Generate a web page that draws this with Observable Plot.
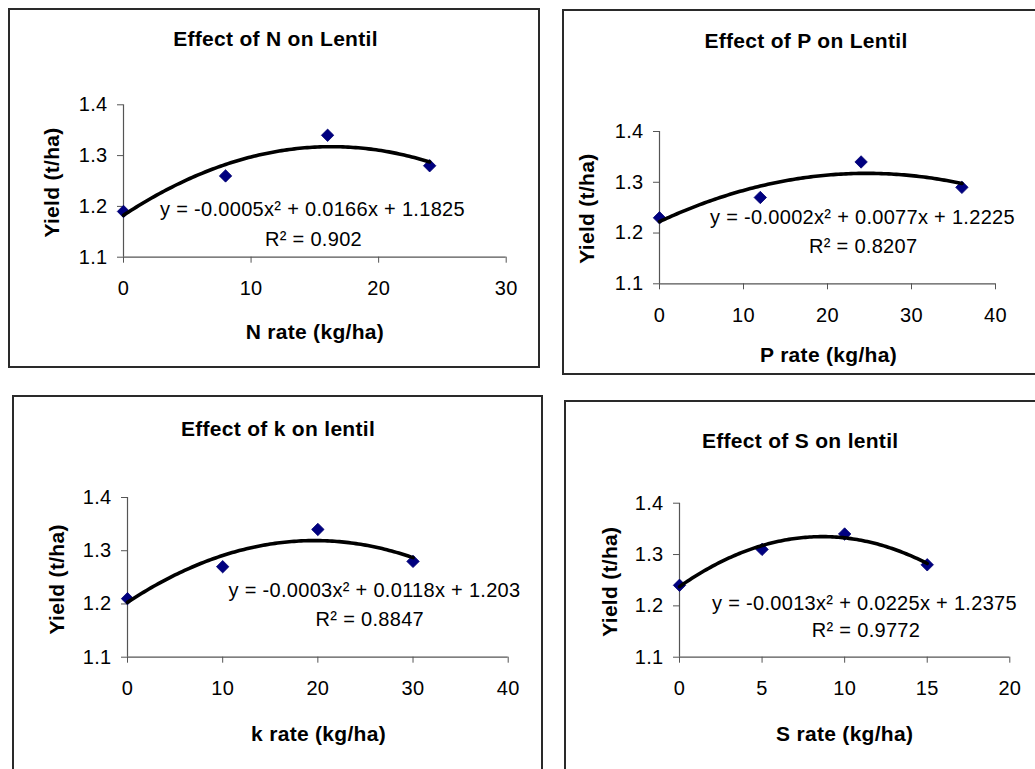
<!DOCTYPE html>
<html><head><meta charset="utf-8">
<script src="https://cdn.jsdelivr.net/npm/d3@7"></script>
<script src="https://cdn.jsdelivr.net/npm/@observablehq/plot@0.6"></script>
<style>
html,body{margin:0;padding:0;background:#fff;}
#page{position:relative;width:1035px;height:769px;overflow:hidden;background:#fff;}
.panel{position:absolute;}
.panel svg{overflow:visible;}
.border{position:absolute;box-sizing:border-box;border:2px solid #2a2a2a;pointer-events:none;}
</style></head><body><div id="page"></div>
<script>
// ---- data ----
const nRate = [0, 8, 16, 24];
const nYield = [1.19, 1.26, 1.34, 1.28];
const pRate = [0, 12, 24, 36];
const pYield = [1.23, 1.27, 1.34, 1.29];
const kRate = [0, 10, 20, 30];
const kYield = [1.21, 1.27, 1.34, 1.28];
const sRate = [0, 5, 10, 15];
const sYield = [1.24, 1.31, 1.34, 1.28];

const yTicks = [1.1, 1.2, 1.3, 1.4];
const nTicks = [0, 10, 20, 30];
const pTicks = [0, 10, 20, 30, 40];
const kTicks = [0, 10, 20, 30, 40];
const sTicks = [0, 5, 10, 15, 20];

const titles = ["Effect of N on Lentil", "Effect of P on Lentil", "Effect of k on lentil", "Effect of S on lentil"];
const xLabels = ["N rate (kg/ha)", "P rate (kg/ha)", "k rate (kg/ha)", "S rate (kg/ha)"];
const yLabel = "Yield (t/ha)";
const equations = [
  "y = -0.0005x² + 0.0166x + 1.1825",
  "y = -0.0002x² + 0.0077x + 1.2225",
  "y = -0.0003x² + 0.0118x + 1.203",
  "y = -0.0013x² + 0.0225x + 1.2375"
];
const r2Labels = ["R² = 0.902", "R² = 0.8207", "R² = 0.8847", "R² = 0.9772"];

// ---- quadratic least-squares trendline (as the spreadsheet computes it) ----
function quadFit(xs, ys) {
  const S = k => d3.sum(xs, x => x ** k);
  const T = k => d3.sum(xs, (x, i) => x ** k * ys[i]);
  const A = [[S(0), S(1), S(2), T(0)], [S(1), S(2), S(3), T(1)], [S(2), S(3), S(4), T(2)]];
  for (let i = 0; i < 3; i++) {
    for (let j = i + 1; j < 3; j++) {
      const f = A[j][i] / A[i][i];
      for (let k = i; k < 4; k++) A[j][k] -= f * A[i][k];
    }
  }
  const c = [0, 0, 0];
  for (let i = 2; i >= 0; i--) {
    let s = A[i][3];
    for (let k = i + 1; k < 3; k++) s -= A[i][k] * c[k];
    c[i] = s / A[i][i];
  }
  return x => c[0] + c[1] * x + c[2] * x * x;
}

// ---- layout (pixel geometry of each framed chart) ----
const layout = [
  {left: 9, top: 9, W: 530, H: 358, mL: 114, mR: 33.3, mT: 95.3, mB: 110.3,
   title: [152, -59.3], yl: [-71, 1.5], xl: [0, 81.3], eq: [189, 110.7], r2: [190, 140.7]},
  {left: 563, top: 10, W: 480, H: 364, mL: 96, mR: 48, mT: 121, mB: 90.7,
   title: [146.5, -83.3], yl: [-72.3, 1], xl: [1, 77.7], eq: [203, 92.3], r2: [203.7, 121.7]},
  {left: 13, top: 396, W: 529, H: 384, mL: 114, mR: 34.3, mT: 101, mB: 123.3,
   title: [150.5, -62], yl: [-70.3, 2], xl: [0.7, 83.3], eq: [247, 99.7], r2: [242.3, 128]},
  {left: 565, top: 401, W: 480, H: 380, mL: 114, mR: 35.7, mT: 101.7, mB: 124.3,
   title: [120.7, -55], yl: [-69, 1.5], xl: [0, 83.3], eq: [185, 106.6], r2: [186.5, 134]}
];

const series = [
  {rate: nRate, yld: nYield, ticks: nTicks},
  {rate: pRate, yld: pYield, ticks: pTicks},
  {rate: kRate, yld: kYield, ticks: kTicks},
  {rate: sRate, yld: sYield, ticks: sTicks}
];

const FONT = '"Liberation Sans", Arial, Helvetica, sans-serif';
const page = document.getElementById("page");

series.forEach((s, i) => {
  const L = layout[i];
  const pts = s.rate.map((x, j) => ({x, y: s.yld[j]}));
  const f = quadFit(s.rate, s.yld);
  const xmax = d3.max(s.rate);
  const fit = d3.range(0, xmax + 1e-9, xmax / 120).map(x => ({x, y: f(x)}));
  const xDomain = [0, d3.max(s.ticks)];

  const chart = Plot.plot({
    width: L.W, height: L.H,
    marginLeft: L.mL, marginRight: L.mR, marginTop: L.mT, marginBottom: L.mB,
    style: {fontFamily: FONT, fontSize: "20px", color: "#000", background: "transparent", letterSpacing: "0.3px"},
    x: {domain: xDomain},
    y: {domain: [1.1, 1.4]},
    marks: [
      Plot.axisY({ticks: yTicks, tickFormat: d3.format(".1f"), tickSize: 6, tickPadding: 10, stroke: "#555", fill: "#000", fontSize: 20, label: null}),
      Plot.axisX({ticks: s.ticks, tickFormat: d3.format("d"), tickSize: 6, tickPadding: 18, stroke: "#555", fill: "#000", fontSize: 20, label: null}),
      Plot.ruleX([0], {stroke: "#555", strokeWidth: 1.2}),
      Plot.ruleY([1.1], {stroke: "#555", strokeWidth: 1.2}),
      Plot.dot(pts, {x: "x", y: "y", symbol: "diamond2", r: 5.6, fill: "#000080", stroke: "#000070", strokeWidth: 0.8}),
      Plot.line(fit, {x: "x", y: "y", stroke: "#000", strokeWidth: 3.6, curve: "linear"}),
      Plot.text([titles[i]], {text: d => d, frameAnchor: "top-left", dx: L.title[0], dy: L.title[1], textAnchor: "middle", lineAnchor: "bottom", fontSize: 21, fontWeight: "bold", fill: "#000", ariaLabel: "boldtext"}),
      Plot.text([yLabel], {text: d => d, frameAnchor: "left", dx: L.yl[0], dy: L.yl[1], rotate: -90, textAnchor: "middle", lineAnchor: "middle", fontSize: 21, fontWeight: "bold", fill: "#000", ariaLabel: "boldtext"}),
      Plot.text([xLabels[i]], {text: d => d, frameAnchor: "bottom", dx: L.xl[0], dy: L.xl[1], textAnchor: "middle", lineAnchor: "bottom", fontSize: 21, fontWeight: "bold", fill: "#000", ariaLabel: "boldtext"}),
      Plot.text([equations[i]], {text: d => d, frameAnchor: "top-left", dx: L.eq[0], dy: L.eq[1], textAnchor: "middle", lineAnchor: "bottom", fontSize: 20, fill: "#000", ariaLabel: "eqtext"}),
      Plot.text([r2Labels[i]], {text: d => d, frameAnchor: "top-left", dx: L.r2[0], dy: L.r2[1], textAnchor: "middle", lineAnchor: "bottom", fontSize: 20, fill: "#000", ariaLabel: "eqtext"})
    ]
  });
  chart.querySelectorAll('g[aria-label="boldtext"] text').forEach(t => { t.style.letterSpacing = "0.5px"; });
  chart.querySelectorAll('g[aria-label="eqtext"] text').forEach(t => { t.style.letterSpacing = "0.4px"; t.style.wordSpacing = "3px"; });

  const wrap = document.createElement("div");
  wrap.className = "panel";
  wrap.style.left = L.left + "px";
  wrap.style.top = L.top + "px";
  wrap.style.width = L.W + "px";
  wrap.style.height = L.H + "px";
  wrap.appendChild(chart);
  page.appendChild(wrap);

  const b = document.createElement("div");
  b.className = "border";
  b.style.left = (L.left - 1) + "px";
  b.style.top = (L.top - 1) + "px";
  b.style.width = (L.W + 2) + "px";
  b.style.height = (L.H + 2) + "px";
  page.appendChild(b);
});
</script>
</body></html>
